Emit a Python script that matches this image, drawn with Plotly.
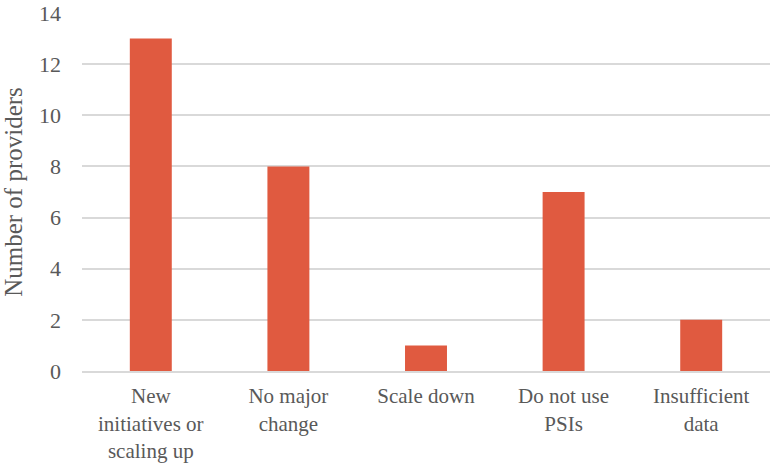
import plotly.graph_objects as go

categories = ["New<br>initiatives or<br>scaling up", "No major<br>change", "Scale down", "Do not use<br>PSIs", "Insufficient<br>data"]
values = [13, 8, 1, 7, 2]
y_ticks = [0, 2, 4, 6, 8, 10, 12, 14]

FONT = "Liberation Serif, DejaVu Serif, serif"

fig = go.Figure(go.Bar(
    x=categories, y=values,
    marker=dict(color="#E05A40", line=dict(width=0)),
    width=0.305,
))

fig.update_layout(
    width=770, height=468,
    margin=dict(l=82, r=0, t=13, b=97),
    plot_bgcolor="white", paper_bgcolor="white",
    showlegend=False,
    font=dict(family=FONT, color="#595959", size=21),
)
fig.update_xaxes(
    showgrid=False, showline=True, linecolor="#d9d9d9", linewidth=2,
    tickfont=dict(size=21, color="#595959", family=FONT),
    ticks="", ticklabelstandoff=5, automargin=False,
)
fig.update_yaxes(
    range=[0, 14], tickvals=y_ticks,
    showgrid=True, gridcolor="#d9d9d9", gridwidth=1.5,
    zeroline=False, showline=False,
    tickfont=dict(size=22, color="#595959", family=FONT),
    ticklabelstandoff=20, automargin=False,
    title=dict(text="Number of providers", font=dict(size=25, color="#595959", family=FONT), standoff=14),
)

fig.write_html(
    "out.html",
    config={"displayModeBar": False},
    post_script="document.body.style.margin='0';",
)
